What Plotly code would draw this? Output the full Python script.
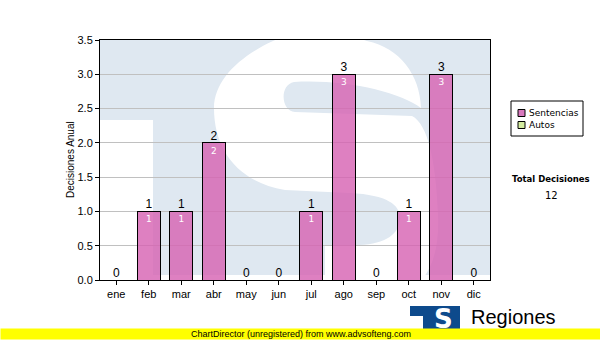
import plotly.graph_objects as go

# ---------------- data ----------------
months = ["ene", "feb", "mar", "abr", "may", "jun", "jul", "ago", "sep", "oct", "nov", "dic"]
sentencias = [0, 1, 1, 2, 0, 0, 1, 3, 0, 1, 3, 0]
autos = [0, 0, 0, 0, 0, 0, 0, 0, 0, 0, 0, 0]
series_names = ["Sentencias", "Autos"]
y_tick_values = [0.0, 0.5, 1.0, 1.5, 2.0, 2.5, 3.0, 3.5]
y_title = "Decisiones Anual"
total_title = "Total Decisiones"
footer_text = "ChartDirector (unregistered) from www.advsofteng.com"
logo_title = "Regiones"
logo_sub = "Tribunal Supremo de Justicia"

# ---------------- styles ----------------
W, H = 600, 340
PL, PR, PT, PB = 100, 490, 40, 280
FONT = "Liberation Sans, Arial, sans-serif"
VFONT = "DejaVu Sans, Verdana, sans-serif"
bar_fill = ["rgba(214,96,178,0.80)", "rgba(205,232,150,0.80)"]
swatch = ["#d878bd", "#d4eca0"]
wm_blue = "#dfe8f1"

totals = [s + a for s, a in zip(sentencias, autos)]
xi = list(range(len(months)))
XR = (-0.5, len(months) - 0.5)
YR = (0, 3.5)


def fx(x):
    return x / W


def fy(y):
    return 1 - y / H


# pixel -> data (for watermark drawn inside plot, clipped by subplot)
def dx(p):
    return XR[0] + (p - PL) * (XR[1] - XR[0]) / (PR - PL)


def dy(p):
    return YR[0] + (PB - p) * (YR[1] - YR[0]) / (PB - PT)


def path(cmds):
    out = []
    for c in cmds:
        op, pts = c[0], c[1:]
        s = op + " " + " ".join("%.4f,%.4f" % (dx(a), dy(b)) for a, b in pts)
        out.append(s)
    return " ".join(out) + " Z"


fig = go.Figure()

fig.add_trace(go.Bar(
    x=xi, y=sentencias, name=series_names[0], width=0.72,
    marker=dict(color=bar_fill[0], line=dict(color="black", width=1)),
    text=[str(v) if v else "" for v in sentencias],
    textposition="inside", insidetextanchor="end", textangle=0,
    textfont=dict(family=VFONT, size=9, color="white"),
    hoverinfo="skip", showlegend=False,
))
fig.add_trace(go.Bar(
    x=xi, y=autos, name=series_names[1], width=0.72,
    marker=dict(color=bar_fill[1], line=dict(color="black", width=0)),
    hoverinfo="skip", showlegend=False,
))
fig.add_trace(go.Scatter(
    x=xi, y=totals, mode="text", text=[str(t) for t in totals],
    textposition="top center",
    textfont=dict(family=FONT, size=12, color="black"),
    cliponaxis=False, hoverinfo="skip", showlegend=False,
))

shapes = []
# watermark: blue "T" block
shapes.append(dict(type="path", xref="x", yref="y", layer="below",
                   path=path([("M", (96, 36)), ("L", (494, 36)), ("L", (494, 275)), ("L", (153, 275)),
                              ("L", (153, 120)), ("L", (96, 120))]),
                   fillcolor=wm_blue, line=dict(width=0)))
# watermark: white "S"
shapes.append(dict(type="path", xref="x", yref="y", layer="below",
                   path=path([
                       ("M", (421, 108)),
                       ("C", (420, 75), (400, 48), (367, 41)),
                       ("C", (335, 30), (295, 30), (273, 41)),
                       ("C", (240, 56), (214, 80), (214, 108)),
                       ("C", (214, 150), (238, 182), (285, 190)),
                       ("L", (350, 193)),
                       ("C", (388, 195), (400, 205), (400, 218)),
                       ("C", (400, 234), (385, 244), (360, 245)),
                       ("L", (325, 246)),
                       ("L", (325, 300)),
                       ("L", (370, 300)),
                       ("C", (425, 300), (440, 262), (438, 215)),
                       ("C", (436, 162), (428, 124), (412, 116)),
                       ("L", (295, 112)),
                       ("C", (281, 111), (279, 85), (294, 82)),
                       ("C", (345, 79), (400, 92), (421, 108)),
                   ]),
                   fillcolor="white", line=dict(width=0)))

# legend box
shapes.append(dict(type="rect", xref="paper", yref="paper", x0=fx(511), x1=fx(583), y0=fy(136), y1=fy(101),
                   fillcolor="white", line=dict(color="black", width=1)))
annotations = []
for k, nm in enumerate(series_names):
    yc = 113 + k * 12
    shapes.append(dict(type="rect", xref="paper", yref="paper", x0=fx(518), x1=fx(525), y0=fy(yc + 3.5),
                       y1=fy(yc - 3.5), fillcolor=swatch[k], line=dict(color="black", width=1)))
    annotations.append(dict(xref="paper", yref="paper", x=fx(527), y=fy(yc), text=nm, showarrow=False,
                            xanchor="left", yanchor="middle", font=dict(family=VFONT, size=9, color="black")))

# total
annotations.append(dict(xref="paper", yref="paper", x=fx(551), y=fy(179), text="<b>%s</b>" % total_title,
                        showarrow=False, xanchor="center", yanchor="middle",
                        font=dict(family=VFONT, size=8.5, color="black")))
annotations.append(dict(xref="paper", yref="paper", x=fx(551), y=fy(195.5), text=str(sum(totals)),
                        showarrow=False, xanchor="center", yanchor="middle",
                        font=dict(family=VFONT, size=10, color="black")))

# y axis title
annotations.append(dict(xref="paper", yref="paper", x=fx(70), y=fy(160), text=y_title, textangle=-90,
                        showarrow=False, xanchor="center", yanchor="middle",
                        font=dict(family=FONT, size=10, color="black")))

# logo at bottom
shapes.append(dict(type="rect", xref="paper", yref="paper", x0=fx(410), x1=fx(460), y0=fy(332), y1=fy(306),
                   fillcolor="#0d4a8c", line=dict(width=0)))
shapes.append(dict(type="rect", xref="paper", yref="paper", x0=fx(410), x1=fx(423), y0=fy(332), y1=fy(316),
                   fillcolor="white", line=dict(width=0)))
annotations.append(dict(xref="paper", yref="paper", x=fx(443), y=fy(319), text="<b>S</b>", showarrow=False,
                        xanchor="center", yanchor="middle",
                        font=dict(family="DejaVu Sans, sans-serif", size=26, color="white")))
annotations.append(dict(xref="paper", yref="paper", x=fx(469), y=fy(317), text=logo_title, showarrow=False,
                        xanchor="left", yanchor="middle", font=dict(family=FONT, size=20, color="black")))
annotations.append(dict(xref="paper", yref="paper", x=fx(469), y=fy(333), text=logo_sub, showarrow=False,
                        xanchor="left", yanchor="middle", font=dict(family=FONT, size=9, color="black")))
# footer band (drawn last so it covers the logo bottom)
annotations.append(dict(xref="paper", yref="paper", x=0, y=0, xanchor="left", yanchor="bottom",
                        text=footer_text, showarrow=False, width=600, height=10, borderpad=0,
                        bgcolor="#ffff00", align="center", valign="middle",
                        font=dict(family=FONT, size=9, color="black")))

fig.update_layout(
    width=W, height=H, margin=dict(l=0, r=0, t=0, b=0),
    paper_bgcolor="white", plot_bgcolor="white",
    barmode="stack", showlegend=False,
    font=dict(family=FONT, size=11, color="black"),
    xaxis=dict(domain=[fx(PL), fx(PR)], range=list(XR), tickmode="array", tickvals=xi, ticktext=months,
               showgrid=False, zeroline=False, showline=True, mirror=True, linecolor="black", linewidth=1,
               ticks="outside", ticklen=4, tickcolor="black", tickfont=dict(family=FONT, size=11, color="black"),
               automargin=False, fixedrange=True),
    yaxis=dict(domain=[fy(PB), fy(PT)], range=list(YR), tickmode="array", tickvals=y_tick_values,
               ticktext=["%.1f" % v for v in y_tick_values],
               showgrid=True, gridcolor="#c0c0c0", gridwidth=1, zeroline=False,
               showline=True, mirror=True, linecolor="black", linewidth=1,
               ticks="outside", ticklen=4, tickcolor="black", tickfont=dict(family=FONT, size=11, color="black"),
               automargin=False, fixedrange=True),
    shapes=shapes, annotations=annotations,
)

fig.write_html("out.html")
